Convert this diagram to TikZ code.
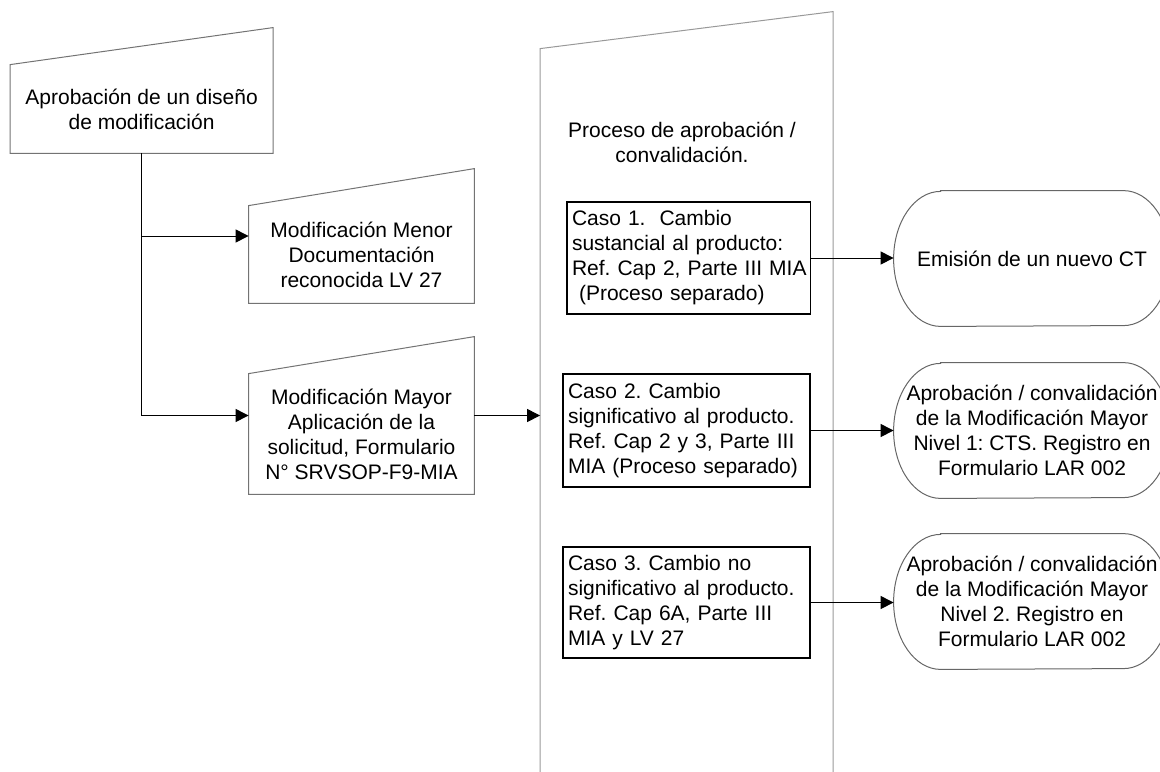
\documentclass[tikz,border=0pt]{standalone}
\usepackage{fontspec}
\setmainfont{Liberation Sans}
\usetikzlibrary{arrows.meta}
\frenchspacing

\begin{document}
\begin{tikzpicture}[x=0.5pt,y=-0.5pt,
    every node/.style={font=\fontsize{10.5}{12.5}\selectfont},
    manin/.style={rectangle,align=center,inner sep=0pt},
    caso/.style={draw,line width=0.75pt,align=left,inner xsep=2.5pt,inner ysep=0pt},
    term/.style={rectangle,align=center,inner sep=0pt,minimum width=138pt,minimum height=67.5pt},
    flecha/.style={-{Triangle[length=6.5pt,width=6.5pt]},line width=0.5pt}]
   \useasboundingbox (0,0) rectangle (1160,771);
   \clip (0,0) rectangle (1160,771);

   \node[manin,minimum width=131pt,minimum height=44pt] (aprob) at (141.6,109)
        {Aprobación de un diseño\\de modificación};
   \node[manin,minimum width=112.5pt,minimum height=48.5pt] (menor) at (361.5,254.5)
        {Modificación Menor\\Documentación\\reconocida LV 27};
   \node[manin,minimum width=112.5pt,minimum height=60pt] (mayor) at (361.5,434)
        {Modificación Mayor\\Aplicación de la\\solicitud, Formulario\\N° SRVSOP-F9-MIA};
   \node[manin,minimum width=146.1pt,minimum height=375.5pt] (proc) at (686.6,424.5) {};
   \node[align=center,inner sep=0pt] (proctit) at (682,142.5)
        {Proceso de aprobación /\\convalidación.};

   % casos
   \node[caso,text width=116.8pt,minimum height=56pt] (caso1) at (688.8,258)
        {Caso 1.\ \ Cambio\\sustancial al producto:\\Ref.~Cap~2,~Parte~III~MIA\\\ (Proceso separado)};
   \node[caso,text width=118.5pt,minimum height=56.5pt] (caso2) at (686.5,430.5)
        {Caso 2. Cambio\\significativo~al~producto.\\Ref.~Cap~2~y~3,~Parte~III\\MIA~(Proceso~separado)};
   \node[caso,text width=118.5pt,minimum height=55.5pt] (caso3) at (686.5,602.5)
        {Caso 3. Cambio no\\significativo~al~producto.\\Ref.~Cap~6A,~Parte~III\\MIA y LV 27};

   % resultados
   \node[term] (ct) at (1032,258.5) {Emisión de un nuevo CT};
   \node[term] (niv1) at (1032,430.5)
        {Aprobación / convalidación\\de la Modificación Mayor\\Nivel 1: CTS. Registro en\\Formulario LAR 002};
   \node[term] (niv2) at (1032,601.5)
        {Aprobación / convalidación\\de la Modificación Mayor\\Nivel 2. Registro en\\Formulario LAR 002};

   % contornos
   \foreach \n in {aprob,menor,mayor}
     \draw[black!55,line width=0.5pt] (\n.south west) -- (\n.north west)
       -- ([yshift=18.5pt]\n.north east) -- (\n.south east) -- cycle;
   \draw[black!40,line width=0.5pt] (proc.south west) -- (proc.north west)
       -- ([yshift=18.5pt]proc.north east) -- (proc.south east) -- cycle;
   \foreach \n in {ct,niv1,niv2}
     \draw[black!60,line width=0.5pt] ([xshift=23.5pt]\n.north west) -- ([xshift=-23.5pt]\n.north east)
       arc[start angle=90,end angle=-90,x radius=23.5pt,y radius=33.75pt]
       -- ([xshift=23.5pt]\n.south west)
       arc[start angle=270,end angle=90,x radius=23.5pt,y radius=33.75pt] -- cycle;

   \coordinate (m3) at ([yshift=9.25pt]mayor.east);
   \draw[flecha] (aprob.south) |- ([yshift=9.25pt]menor.west);
   \draw[flecha] (aprob.south) |- ([yshift=9.25pt]mayor.west);
   \draw[flecha] (m3) -- (m3 -| proc.west);
   \draw[flecha] (caso1.east) -- (caso1.east -| ct.west);
   \draw[flecha] (caso2.east) -- (caso2.east -| niv1.west);
   \draw[flecha] (caso3.east) -- (caso3.east -| niv2.west);
\end{tikzpicture}
\end{document}
